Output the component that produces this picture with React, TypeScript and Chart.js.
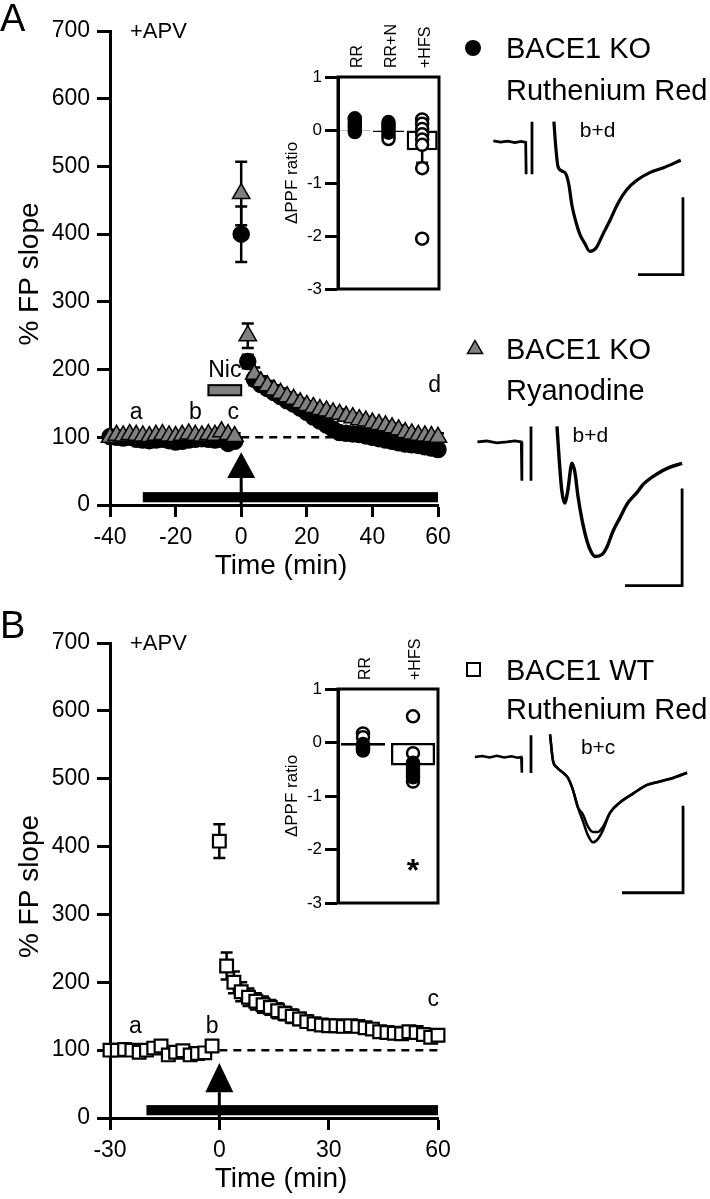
import React, { useEffect, useRef } from "react";
import { Chart, registerables } from "chart.js";

Chart.register(...registerables);

const FONT = "'Liberation Sans', Arial, Helvetica, sans-serif";
Chart.defaults.font.family = FONT;
Chart.defaults.color = "#000";

// ================= Panel A : time course (% FP slope) =================
const A_TIME = [
  -40, -38, -36, -34, -32, -30, -28, -26, -24, -22, -20, -18, -16, -14, -12, -10, -8, -6, -4, -2,
  0,
  2, 4, 6, 8, 10, 12, 14, 16, 18, 20, 22, 24, 26, 28, 30, 32, 34, 36, 38, 40, 42, 44, 46, 48, 50, 52, 54, 56, 58, 60,
];
// BACE1 KO + Ruthenium Red (filled circles)
const A_KO_RR = [
  101, 100, 99, 100, 97, 96, 95, 96, 97, 95, 93, 94, 96, 97, 98, 97, 96, 97, 91, 94,
  400,
  212, 186, 178, 172, 166, 160, 154, 149, 143, 137, 130, 124, 118, 112, 107, 106, 105, 104, 102, 100, 98, 96, 94, 92, 90, 89, 88, 86, 84, 82,
];
const A_KO_RR_ERR = [
  4, 4, 4, 4, 4, 4, 4, 4, 4, 4, 4, 4, 4, 4, 4, 4, 4, 4, 4, 4,
  41,
  10, 9, 8, 7, 7, 7, 6, 6, 6, 6, 6, 6, 6, 6, 6, 5, 5, 5, 5, 5, 5, 5, 5, 5, 5, 5, 5, 5, 5, 5,
];
// BACE1 KO + Ryanodine (grey triangles)
const A_KO_RY = [
  100, 103, 102, 104, 103, 102, 101, 103, 104, 102, 101, 103, 105, 103, 102, 104, 103, 108, 104, 101,
  460,
  250, 193, 182, 176, 170, 165, 160, 156, 151, 147, 144, 141, 139, 136, 134, 131, 129, 126, 124, 121, 119, 117, 114, 111, 107, 105, 103, 102, 101, 100,
];
const A_KO_RY_ERR = [
  5, 5, 5, 5, 5, 5, 5, 5, 5, 5, 5, 5, 5, 5, 5, 5, 5, 5, 5, 5,
  47,
  18, 10, 8, 7, 7, 7, 6, 6, 6, 6, 6, 6, 6, 6, 7, 6, 6, 6, 6, 6, 6, 6, 6, 6, 6, 6, 6, 6, 6, 6,
];
const A_X_TICKS = [-40, -20, 0, 20, 40, 60];
const A_X_RANGE = [-40, 60];
const Y_TICKS = [0, 100, 200, 300, 400, 500, 600, 700];
const Y_RANGE = [0, 700];
const BASELINE_LEVEL = 100;
const DRUG_LEVEL = [4, 19];
const A_DRUG_PERIOD = [-30, 60];
const A_NIC_PERIOD = [-10, 0];
const A_NIC_LEVEL = [162, 177];
const A_NIC_LABEL = [-5, 198];
const A_STIM_TIME = 0;
const A_ARROW = [40, 78]; // base, tip (% FP slope units)
const A_DASH_PERIOD = [0, 60];
const A_LETTERS = ["a", "b", "c", "d"];
const A_LETTER_T = [-32, -14, -2.4, 59];
const A_LETTER_Y = [136, 136, 136, 176];

// ================= Panel A : inset (ΔPPF ratio) =================
const INSET_A_CATS = ["RR", "RR+N", "+HFS"];
const INSET_A_MEANS = [-0.02, -0.04, -0.38];
const INSET_A_SEM = [0, 0, 0.24];
const INSET_A_RR_FILLED = [0.2, 0.15, 0.1, 0.05, 0.0];
const INSET_A_RR_OPEN = [0.22, -0.04];
const INSET_A_RRN_FILLED = [0.15, 0.1, 0.05, 0.0, -0.05];
const INSET_A_RRN_OPEN = [-0.12, -0.17];
const INSET_A_HFS_FILLED: number[] = [];
const INSET_A_HFS_OPEN = [0.2, 0.12, 0.02, -0.08, -0.18, -0.28, -0.72, -2.05];
const INSET_Y_TICKS = [-3, -2, -1, 0, 1];

// ================= Panel A : traces =================
const TR_A1_PRE_T = [-4.3, -3.5, -2.7, -1.9, -1.2, -0.7, -0.65];
const TR_A1_PRE_V = [0.005, -0.003, 0.004, -0.006, 0.002, -0.004, -0.21];
const TR_A1_ART_T = [0, 0];
const TR_A1_ART_V = [0.13, -0.21];
const TR_A1_T = [2.44, 2.67, 2.89, 3.33, 3.78, 4.11, 4.44, 4.89, 5.33, 5.89, 6.44, 7.11, 7.89, 8.67, 9.56, 10.56, 11.67, 13.11, 14.56, 16.56];
const TR_A1_V = [0.13, -0.05, -0.16, -0.19, -0.21, -0.28, -0.41, -0.52, -0.6, -0.66, -0.71, -0.69, -0.6, -0.51, -0.4, -0.31, -0.25, -0.2, -0.17, -0.12];
const TR_A1_BAR_T = [11.8, 16.8, 16.8];
const TR_A1_BAR_V = [-0.86, -0.86, -0.36];
const TR_A1_VIEW_T = [-6.9, 18.7];
const TR_A1_VIEW_V = [-0.96, 0.27];
const TR_A1_LABEL = [7.3, 0.07];

const TR_A2_PRE_T = [-4.7, -3.9, -3.0, -2.1, -1.4, -0.85, -0.8];
const TR_A2_PRE_V = [0, 0.005, -0.005, 0, 0.005, 0, -0.2];
const TR_A2_ART_T = [0, 0];
const TR_A2_ART_V = [0.08, -0.2];
const TR_A2_T = [2.28, 2.46, 2.7, 2.95, 3.2, 3.6, 3.86, 4.12, 4.47, 4.91, 5.26, 5.61, 6.23, 6.67, 7.19, 7.81, 8.42, 9.3, 9.82, 11.05, 12.19, 13.25];
const TR_A2_V = [0.08, -0.08, -0.25, -0.315, -0.26, -0.11, -0.16, -0.28, -0.4, -0.51, -0.565, -0.59, -0.58, -0.54, -0.46, -0.39, -0.32, -0.26, -0.22, -0.165, -0.13, -0.11];
const TR_A2_BAR_T = [8.25, 13.25, 13.25];
const TR_A2_BAR_V = [-0.74, -0.74, -0.24];
const TR_A2_VIEW_T = [-5.35, 14.82];
const TR_A2_VIEW_V = [-0.763, 0.577];
const TR_A2_LABEL = [5.2, 0.03];

// ================= Panel B : time course =================
const B_TIME = [
  -30, -28, -26, -24, -22, -20, -18, -16, -14, -12, -10, -8, -6, -4, -2,
  0,
  2, 4, 6, 8, 10, 12, 14, 16, 18, 20, 22, 24, 26, 28, 30, 32, 34, 36, 38, 40, 42, 44, 46, 48, 50, 52, 54, 56, 58, 60,
];
// BACE1 WT + Ruthenium Red (open squares)
const B_WT_RR = [
  100, 100, 101, 100, 97, 100, 103, 106, 93, 97, 99, 93, 95, 96, 106,
  408,
  224, 200, 186, 178, 172, 167, 163, 158, 154, 150, 146, 142, 139, 137, 136, 136, 135, 136, 135, 133, 131, 127, 126, 125, 124, 127, 126, 123, 119, 122,
];
const B_WT_RR_ERR = [
  4, 4, 4, 4, 4, 4, 4, 4, 4, 4, 4, 4, 4, 4, 4,
  25,
  20, 16, 14, 13, 12, 12, 11, 11, 10, 10, 9, 9, 8, 8, 8, 7, 7, 7, 7, 7, 7, 7, 7, 7, 7, 7, 7, 7, 7, 7,
];
const B_X_TICKS = [-30, 0, 30, 60];
const B_X_RANGE = [-30, 60];
const B_DRUG_PERIOD = [-20, 60];
const B_STIM_TIME = 0;
const B_ARROW = [38, 81];
const B_DASH_PERIOD = [0, 60];
const B_LETTERS = ["a", "b", "c"];
const B_LETTER_T = [-23, -2, 58.7];
const B_LETTER_Y = [134, 134, 174];

// ================= Panel B : inset =================
const INSET_B_CATS = ["RR", "+HFS"];
const INSET_B_MEANS = [-0.06, -0.43];
const INSET_B_SEM = [0, 0];
const INSET_B_RR_FILLED = [-0.03, -0.07, -0.1, -0.13, -0.15];
const INSET_B_RR_OPEN = [0.17, 0.1];
const INSET_B_HFS_FILLED = [-0.38, -0.45, -0.5, -0.55, -0.6, -0.65];
const INSET_B_HFS_OPEN = [0.49, -0.2, -0.73];
const INSET_B_STAR = ["+HFS", -2.25];

// ================= Panel B : traces =================
const TR_B_PRE_T = [-4.6, -4.0, -3.4, -2.8, -2.2, -1.6, -1.1, -0.8, -0.75];
const TR_B_PRE_V = [0, 0.006, -0.002, 0.007, -0.003, 0.005, -0.004, 0, -0.09];
const TR_B_ART_T = [0, 0];
const TR_B_ART_V = [0.126, -0.092];
const TR_B_T = [1.56, 1.8, 2.13, 2.62, 3.03, 3.44, 3.85, 4.26, 4.67, 5.08, 5.49, 5.9, 6.48, 7.3, 8.36, 9.51, 10.57, 11.64, 12.79];
const TR_B_V_B = [0.13, -0.02, -0.06, -0.09, -0.12, -0.19, -0.29, -0.33, -0.4, -0.43, -0.43, -0.4, -0.32, -0.26, -0.21, -0.16, -0.14, -0.12, -0.09];
const TR_B_V_C = [0.13, -0.02, -0.06, -0.09, -0.12, -0.19, -0.29, -0.37, -0.45, -0.49, -0.47, -0.42, -0.32, -0.26, -0.21, -0.16, -0.14, -0.12, -0.09];
const TR_B_BAR_T = [7.46, 12.46, 12.46];
const TR_B_BAR_V = [-0.78, -0.78, -0.28];
const TR_B_VIEW_T = [-5.0, 13.85];
const TR_B_VIEW_V = [-0.879, 0.213];
const TR_B_LABEL = [5.5, 0.05];

// ======================================================================
type AnyChart = Chart<any, any, any>;

const BASE_OPTS = {
  animation: false as const,
  responsive: false,
  events: [] as any[],
  plugins: { legend: { display: false }, tooltip: { enabled: false } },
};

interface SeriesSpec {
  t: number[];
  y: number[];
  err: number[];
  pointStyle: string;
  radius: number;
  fill: string;
  borderWidth: number;
}

interface CourseSpec {
  series: SeriesSpec[];
  xRange: number[];
  xTicks: number[];
  padTop: number;
  xAxisHeight: number;
  drugPeriod: number[];
  stimTime: number;
  arrow: number[];
  dashPeriod: number[];
  letters: string[];
  letterT: number[];
  letterY: number[];
  nicPeriod?: number[];
  nicLevel?: number[];
  nicLabel?: number[];
}

function axisCommon(tickLength: number, fontSize: number, padding: number) {
  return {
    grid: { drawOnChartArea: false, drawTicks: true, tickLength, tickWidth: 3, tickColor: "#000" },
    border: { display: true, color: "#000", width: 3 },
    ticks: { font: { size: fontSize, family: FONT }, color: "#000", padding, maxRotation: 0, autoSkip: false },
  };
}

function buildCourse(canvas: HTMLCanvasElement, s: CourseSpec): AnyChart {
  const datasets = s.series.map((ser) => ({
    type: "scatter",
    data: ser.t.map((t, i) => ({ x: t, y: ser.y[i] })),
    pointStyle: ser.pointStyle,
    pointRadius: ser.radius,
    pointBackgroundColor: ser.fill,
    pointBorderColor: "#000",
    pointBorderWidth: ser.borderWidth,
    showLine: false,
    clip: false,
  }));

  const decor = {
    id: "courseDecor",
    beforeDatasetsDraw(chart: AnyChart) {
      const ctx = chart.ctx;
      const xs = chart.scales.x;
      const ys = chart.scales.y;
      const px = (v: number) => xs.getPixelForValue(v);
      const py = (v: number) => ys.getPixelForValue(v);
      ctx.save();
      ctx.strokeStyle = "#000";
      ctx.fillStyle = "#000";
      // dashed baseline
      ctx.lineWidth = 2.5;
      ctx.setLineDash([8, 6]);
      ctx.beginPath();
      ctx.moveTo(px(s.dashPeriod[0]), py(BASELINE_LEVEL));
      ctx.lineTo(px(s.dashPeriod[1]), py(BASELINE_LEVEL));
      ctx.stroke();
      ctx.setLineDash([]);
      // drug application bar
      const dx0 = px(s.drugPeriod[0]);
      const dx1 = px(s.drugPeriod[1]);
      ctx.fillRect(dx0, py(DRUG_LEVEL[1]), dx1 - dx0, py(DRUG_LEVEL[0]) - py(DRUG_LEVEL[1]));
      // stimulus arrow
      const ax = px(s.stimTime);
      ctx.lineWidth = 3;
      ctx.beginPath();
      ctx.moveTo(ax, py(0));
      ctx.lineTo(ax, py(s.arrow[0]));
      ctx.stroke();
      ctx.beginPath();
      ctx.moveTo(ax, py(s.arrow[1]));
      ctx.lineTo(ax - 14, py(s.arrow[0]));
      ctx.lineTo(ax + 14, py(s.arrow[0]));
      ctx.closePath();
      ctx.fill();
      // nicotine bar
      if (s.nicPeriod && s.nicLevel) {
        const nx0 = px(s.nicPeriod[0]);
        const nx1 = px(s.nicPeriod[1]);
        const ny0 = py(s.nicLevel[1]);
        const ny1 = py(s.nicLevel[0]);
        ctx.fillStyle = "#808080";
        ctx.fillRect(nx0, ny0, nx1 - nx0, ny1 - ny0);
        ctx.lineWidth = 2;
        ctx.strokeRect(nx0, ny0, nx1 - nx0, ny1 - ny0);
        ctx.fillStyle = "#000";
      }
      // error bars
      ctx.lineWidth = 2.5;
      s.series.forEach((ser, di) => {
        const meta = chart.getDatasetMeta(di);
        ser.err.forEach((e, i) => {
          const el: any = meta.data[i];
          if (!el || !e) return;
          const x = el.x;
          const yt = py(ser.y[i] + e);
          const yb = py(ser.y[i] - e);
          ctx.beginPath();
          ctx.moveTo(x, yt);
          ctx.lineTo(x, yb);
          ctx.moveTo(x - 6, yt);
          ctx.lineTo(x + 6, yt);
          ctx.moveTo(x - 6, yb);
          ctx.lineTo(x + 6, yb);
          ctx.stroke();
        });
      });
      ctx.restore();
    },
    afterDraw(chart: AnyChart) {
      const ctx = chart.ctx;
      const xs = chart.scales.x;
      const ys = chart.scales.y;
      const ca = chart.chartArea;
      ctx.save();
      ctx.fillStyle = "#000";
      ctx.textAlign = "center";
      ctx.textBaseline = "middle";
      ctx.font = `23px ${FONT}`;
      s.letters.forEach((l, i) => {
        ctx.fillText(l, xs.getPixelForValue(s.letterT[i]), ys.getPixelForValue(s.letterY[i]));
      });
      if (s.nicLabel) {
        ctx.fillText("Nic", xs.getPixelForValue(s.nicLabel[0]), ys.getPixelForValue(s.nicLabel[1]));
      }
      // axis titles
      ctx.font = `28px ${FONT}`;
      ctx.fillText("Time (min)", (ca.left + ca.right) / 2 + 7, ca.bottom + 61);
      ctx.translate(30, (ca.top + ca.bottom) / 2 + 6);
      ctx.rotate(-Math.PI / 2);
      ctx.fillText("% FP slope", 0, 0);
      ctx.restore();
    },
  };

  return new Chart(canvas, {
    type: "scatter",
    data: { datasets: datasets as any },
    options: {
      ...BASE_OPTS,
      layout: { padding: { top: s.padTop, right: 22, left: 0, bottom: 0 } },
      scales: {
        x: {
          type: "linear",
          min: s.xRange[0],
          max: s.xRange[1],
          afterBuildTicks: (sc: any) => {
            sc.ticks = s.xTicks.map((v) => ({ value: v }));
          },
          afterFit: (sc: any) => {
            sc.height = s.xAxisHeight;
          },
          ...axisCommon(12, 23, 7),
        },
        y: {
          type: "linear",
          min: Y_RANGE[0],
          max: Y_RANGE[1],
          afterBuildTicks: (sc: any) => {
            sc.ticks = Y_TICKS.map((v) => ({ value: v }));
          },
          afterFit: (sc: any) => {
            sc.width = 110;
          },
          ...axisCommon(13, 23, 7),
        },
      } as any,
    } as any,
    plugins: [decor],
  });
}

interface InsetSpec {
  cats: string[];
  means: number[];
  sem: number[];
  filled: number[][];
  open: number[][];
  barPct: number;
  padTop: number;
  padRight: number;
  padBottom: number;
  star?: (string | number)[];
}

function buildInset(canvas: HTMLCanvasElement, s: InsetSpec): AnyChart {
  const pts = (groups: number[][]) =>
    s.cats.flatMap((c, i) => groups[i].map((v) => ({ x: c, y: v })));
  const pointDs = (groups: number[][], fill: string, order: number) => ({
    type: "line",
    data: pts(groups),
    showLine: false,
    pointRadius: 6,
    pointStyle: "circle",
    pointBackgroundColor: fill,
    pointBorderColor: "#000",
    pointBorderWidth: 2.5,
    order,
    clip: false,
  });

  const decor = {
    id: "insetDecor",
    beforeDatasetsDraw(chart: AnyChart) {
      const ctx = chart.ctx;
      const ys = chart.scales.y;
      const meta = chart.getDatasetMeta(2);
      ctx.save();
      ctx.strokeStyle = "#000";
      ctx.lineWidth = 2.5;
      s.sem.forEach((e, i) => {
        if (!e) return;
        const el: any = meta.data[i];
        const yt = ys.getPixelForValue(s.means[i] + e);
        const yb = ys.getPixelForValue(s.means[i] - e);
        ctx.beginPath();
        ctx.moveTo(el.x, yt);
        ctx.lineTo(el.x, yb);
        ctx.moveTo(el.x - 6, yb);
        ctx.lineTo(el.x + 6, yb);
        ctx.stroke();
      });
      ctx.restore();
    },
    afterDraw(chart: AnyChart) {
      const ctx = chart.ctx;
      const ca = chart.chartArea;
      const xs = chart.scales.x;
      const ys = chart.scales.y;
      ctx.save();
      ctx.strokeStyle = "#000";
      ctx.lineWidth = 3;
      ctx.strokeRect(ca.left, ca.top, ca.right - ca.left, ca.bottom - ca.top);
      ctx.fillStyle = "#000";
      // category labels (rotated)
      ctx.font = `16px ${FONT}`;
      ctx.textAlign = "left";
      ctx.textBaseline = "middle";
      s.cats.forEach((c, i) => {
        ctx.save();
        ctx.translate(xs.getPixelForValue(i) + 3, ca.top - 9);
        ctx.rotate(-Math.PI / 2);
        ctx.fillText(c, 0, 0);
        ctx.restore();
      });
      // y title
      ctx.save();
      ctx.font = `17px ${FONT}`;
      ctx.textAlign = "center";
      ctx.translate(22, (ca.top + ca.bottom) / 2);
      ctx.rotate(-Math.PI / 2);
      ctx.fillText("\u0394PPF ratio", 0, 0);
      ctx.restore();
      if (s.star) {
        ctx.font = `bold 32px ${FONT}`;
        ctx.textAlign = "center";
        ctx.textBaseline = "alphabetic";
        const ci = s.cats.indexOf(s.star[0] as string);
        ctx.fillText("*", xs.getPixelForValue(ci), ys.getPixelForValue(s.star[1] as number) + 18);
      }
      ctx.restore();
    },
  };

  return new Chart(canvas, {
    type: "bar",
    data: {
      labels: s.cats,
      datasets: [
        pointDs(s.filled, "#000", 1),
        pointDs(s.open, "#fff", 2),
        {
          type: "bar",
          data: s.means,
          backgroundColor: "#fff",
          borderColor: "#000",
          borderWidth: 2.5,
          borderSkipped: false,
          barPercentage: s.barPct,
          categoryPercentage: 1,
          order: 3,
        },
      ] as any,
    },
    options: {
      ...BASE_OPTS,
      layout: { padding: { top: s.padTop, right: s.padRight, bottom: s.padBottom, left: 0 } },
      scales: {
        x: { type: "category", display: false, offset: true },
        y: {
          type: "linear",
          min: -3,
          max: 1,
          afterBuildTicks: (sc: any) => {
            sc.ticks = INSET_Y_TICKS.map((v) => ({ value: v }));
          },
          afterFit: (sc: any) => {
            sc.width = 68;
          },
          ...axisCommon(13, 17, 3),
        },
      } as any,
    } as any,
    plugins: [decor],
  });
}

interface TraceLine {
  t: number[];
  v: number[];
  smooth: boolean;
  width: number;
}
interface TraceSpec {
  lines: TraceLine[];
  viewT: number[];
  viewV: number[];
  label: string;
  labelPos: number[];
}

function buildTrace(canvas: HTMLCanvasElement, s: TraceSpec): AnyChart {
  const datasets = s.lines.map((ln) => ({
    type: "scatter",
    data: ln.t.map((t, i) => ({ x: t, y: ln.v[i] })),
    showLine: true,
    borderColor: "#000",
    borderWidth: ln.width,
    pointRadius: 0,
    tension: ln.smooth ? 0.4 : 0,
    cubicInterpolationMode: ln.smooth ? "monotone" : "default",
    borderCapStyle: "butt",
    borderJoinStyle: "miter",
    clip: false,
  }));
  const decor = {
    id: "traceLabel",
    afterDraw(chart: AnyChart) {
      const ctx = chart.ctx;
      ctx.save();
      ctx.fillStyle = "#000";
      ctx.font = `21px ${FONT}`;
      ctx.textAlign = "center";
      ctx.textBaseline = "middle";
      ctx.fillText(s.label, chart.scales.x.getPixelForValue(s.labelPos[0]), chart.scales.y.getPixelForValue(s.labelPos[1]));
      ctx.restore();
    },
  };
  return new Chart(canvas, {
    type: "scatter",
    data: { datasets: datasets as any },
    options: {
      ...BASE_OPTS,
      layout: { padding: 0 },
      scales: {
        x: { type: "linear", display: false, min: s.viewT[0], max: s.viewT[1] },
        y: { type: "linear", display: false, min: s.viewV[0], max: s.viewV[1] },
      },
    } as any,
    plugins: [decor],
  });
}

// ======================================================================
const abs = (left: number, top: number): React.CSSProperties => ({ position: "absolute", left, top });

function Txt({ left, top, size, children }: { left: number; top: number; size: number; children: React.ReactNode }) {
  return (
    <div
      style={{
        ...abs(left, top),
        fontSize: size,
        lineHeight: `${size}px`,
        whiteSpace: "nowrap",
        fontFamily: FONT,
        color: "#000",
      }}
    >
      {children}
    </div>
  );
}

export default function App() {
  const mainA = useRef<HTMLCanvasElement>(null);
  const insetA = useRef<HTMLCanvasElement>(null);
  const traceA1 = useRef<HTMLCanvasElement>(null);
  const traceA2 = useRef<HTMLCanvasElement>(null);
  const mainB = useRef<HTMLCanvasElement>(null);
  const insetB = useRef<HTMLCanvasElement>(null);
  const traceB = useRef<HTMLCanvasElement>(null);

  useEffect(() => {
    const charts: AnyChart[] = [];
    charts.push(
      buildCourse(mainA.current!, {
        series: [
          { t: A_TIME, y: A_KO_RY, err: A_KO_RY_ERR, pointStyle: "triangle", radius: 10, fill: "#808080", borderWidth: 1.5 },
          { t: A_TIME, y: A_KO_RR, err: A_KO_RR_ERR, pointStyle: "circle", radius: 8, fill: "#000", borderWidth: 1.5 },
        ],
        xRange: A_X_RANGE,
        xTicks: A_X_TICKS,
        padTop: 31,
        xAxisHeight: 85,
        drugPeriod: A_DRUG_PERIOD,
        stimTime: A_STIM_TIME,
        arrow: A_ARROW,
        dashPeriod: A_DASH_PERIOD,
        letters: A_LETTERS,
        letterT: A_LETTER_T,
        letterY: A_LETTER_Y,
        nicPeriod: A_NIC_PERIOD,
        nicLevel: A_NIC_LEVEL,
        nicLabel: A_NIC_LABEL,
      })
    );
    charts.push(
      buildInset(insetA.current!, {
        cats: INSET_A_CATS,
        means: INSET_A_MEANS,
        sem: INSET_A_SEM,
        filled: [INSET_A_RR_FILLED, INSET_A_RRN_FILLED, INSET_A_HFS_FILLED],
        open: [INSET_A_RR_OPEN, INSET_A_RRN_OPEN, INSET_A_HFS_OPEN],
        barPct: 0.92,
        padTop: 77,
        padRight: 11,
        padBottom: 21,
      })
    );
    charts.push(
      buildTrace(traceA1.current!, {
        lines: [
          { t: TR_A1_PRE_T, v: TR_A1_PRE_V, smooth: false, width: 2.8 },
          { t: TR_A1_ART_T, v: TR_A1_ART_V, smooth: false, width: 2.8 },
          { t: TR_A1_T, v: TR_A1_V, smooth: true, width: 3.2 },
          { t: TR_A1_BAR_T, v: TR_A1_BAR_V, smooth: false, width: 2.8 },
        ],
        viewT: TR_A1_VIEW_T,
        viewV: TR_A1_VIEW_V,
        label: "b+d",
        labelPos: TR_A1_LABEL,
      })
    );
    charts.push(
      buildTrace(traceA2.current!, {
        lines: [
          { t: TR_A2_PRE_T, v: TR_A2_PRE_V, smooth: false, width: 2.8 },
          { t: TR_A2_ART_T, v: TR_A2_ART_V, smooth: false, width: 2.8 },
          { t: TR_A2_T, v: TR_A2_V, smooth: true, width: 3.4 },
          { t: TR_A2_BAR_T, v: TR_A2_BAR_V, smooth: false, width: 2.8 },
        ],
        viewT: TR_A2_VIEW_T,
        viewV: TR_A2_VIEW_V,
        label: "b+d",
        labelPos: TR_A2_LABEL,
      })
    );
    charts.push(
      buildCourse(mainB.current!, {
        series: [
          { t: B_TIME, y: B_WT_RR, err: B_WT_RR_ERR, pointStyle: "rect", radius: 9, fill: "#fff", borderWidth: 2.2 },
        ],
        xRange: B_X_RANGE,
        xTicks: B_X_TICKS,
        padTop: 43,
        xAxisHeight: 81,
        drugPeriod: B_DRUG_PERIOD,
        stimTime: B_STIM_TIME,
        arrow: B_ARROW,
        dashPeriod: B_DASH_PERIOD,
        letters: B_LETTERS,
        letterT: B_LETTER_T,
        letterY: B_LETTER_Y,
      })
    );
    charts.push(
      buildInset(insetB.current!, {
        cats: INSET_B_CATS,
        means: INSET_B_MEANS,
        sem: INSET_B_SEM,
        filled: [INSET_B_RR_FILLED, INSET_B_HFS_FILLED],
        open: [INSET_B_RR_OPEN, INSET_B_HFS_OPEN],
        barPct: 0.88,
        padTop: 89,
        padRight: 12,
        padBottom: 17,
        star: INSET_B_STAR,
      })
    );
    charts.push(
      buildTrace(traceB.current!, {
        lines: [
          { t: TR_B_PRE_T, v: TR_B_PRE_V, smooth: false, width: 2.5 },
          { t: TR_B_ART_T, v: TR_B_ART_V, smooth: false, width: 2.8 },
          { t: TR_B_T, v: TR_B_V_B, smooth: true, width: 2.5 },
          { t: TR_B_T, v: TR_B_V_C, smooth: true, width: 2.5 },
          { t: TR_B_BAR_T, v: TR_B_BAR_V, smooth: false, width: 2.8 },
        ],
        viewT: TR_B_VIEW_T,
        viewV: TR_B_VIEW_V,
        label: "b+c",
        labelPos: TR_B_LABEL,
      })
    );
    return () => charts.forEach((c) => c.destroy());
  }, []);

  return (
    <div
      style={{
        position: "absolute",
        left: 0,
        top: 0,
        width: 710,
        height: 1199,
        background: "#fff",
        overflow: "hidden",
        fontFamily: FONT,
      }}
    >
      <canvas ref={mainA} width={460} height={590} style={abs(0, 0)} />
      <canvas ref={insetA} width={180} height={310} style={abs(270, 0)} />
      <canvas ref={traceA1} width={230} height={190} style={abs(470, 100)} />
      <canvas ref={traceA2} width={230} height={260} style={abs(470, 330)} />
      <canvas ref={mainB} width={460} height={599} style={abs(0, 600)} />
      <canvas ref={insetB} width={180} height={320} style={abs(270, 600)} />
      <canvas ref={traceB} width={230} height={190} style={abs(470, 720)} />

      <Txt left={0} top={-1} size={38}>A</Txt>
      <Txt left={0} top={606} size={38}>B</Txt>
      <Txt left={130} top={20} size={22}>+APV</Txt>
      <Txt left={130} top={632} size={22}>+APV</Txt>

      {/* legend A1 */}
      <div style={{ ...abs(465, 40), width: 16, height: 16, borderRadius: "50%", background: "#000" }} />
      <Txt left={506} top={34} size={29}>BACE1 KO</Txt>
      <Txt left={506} top={76} size={29}>Ruthenium Red</Txt>

      {/* legend A2 */}
      <svg width={18} height={16} style={abs(466, 339)}>
        <polygon points="9,1.5 16.5,14.5 1.5,14.5" fill="#808080" stroke="#000" strokeWidth={1.5} />
      </svg>
      <Txt left={506} top={335} size={29}>BACE1 KO</Txt>
      <Txt left={506} top={376} size={29}>Ryanodine</Txt>

      {/* legend B */}
      <div style={{ ...abs(466, 662), width: 15, height: 15, boxSizing: "border-box", border: "2.5px solid #000", background: "#fff" }} />
      <Txt left={506} top={656} size={29}>BACE1 WT</Txt>
      <Txt left={506} top={695} size={29}>Ruthenium Red</Txt>
    </div>
  );
}
